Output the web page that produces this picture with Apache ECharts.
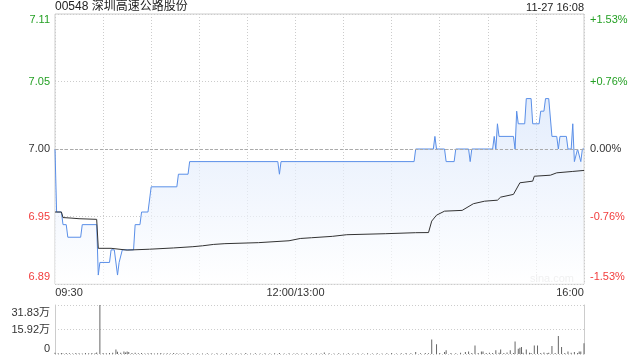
<!DOCTYPE html>
<html>
<head>
<meta charset="utf-8">
<script src="https://cdn.jsdelivr.net/npm/echarts@6/dist/echarts.min.js"></script>
<style>
  html, body { margin: 0; padding: 0; background: #fff; }
  #chart { width: 640px; height: 360px; }
</style>
</head>
<body>
<div id="chart"></div>
<script>
// ---------- data ----------
const titleText = '00548 深圳高速公路股份';
const stampText = '11-27 16:08';
const prevClose = 7.00;

const timeTicks = [0, 150, 330];
const timeLabels = ['09:30', '12:00/13:00', '16:00'];
const priceTickLabels = ['6.89', '6.95', '7.00', '7.05', '7.11'];
const pctTickLabels = ['-1.53%', '-0.76%', '0.00%', '+0.76%', '+1.53%'];
const volTickLabels = ['0', '15.92万', '31.83万'];

const priceMinutes = [0,1,4,5,7,8,16,17,26,27,28,34,35,37,39,40,41,42,49,50,53,54,58,60,76,77,83,84,139,140,141,224,225,236,237,238,243,244,249,250,258,259,260,273,274,275,276,277,286,287,288,289,293,294,297,298,302,303,305,306,308,310,313,314,315,319,320,322,323,324,325,326,327,328,329,330];
const priceValues = [7.00,6.95,6.95,6.94,6.94,6.93,6.93,6.94,6.94,6.90,6.91,6.91,6.92,6.92,6.90,6.91,6.91,6.92,6.92,6.94,6.94,6.95,6.95,6.97,6.97,6.98,6.98,6.99,6.99,6.98,6.99,6.99,7.00,7.00,7.01,7.00,7.00,6.99,6.99,7.00,7.00,6.99,7.00,7.00,7.01,7.00,7.02,7.01,7.01,7.00,7.03,7.02,7.02,7.04,7.04,7.02,7.02,7.03,7.03,7.04,7.04,7.01,7.01,7.00,7.01,7.01,7.00,7.00,7.02,6.99,6.99,7.00,7.00,6.99,7.00,7.00];

const avgMinutes = [0,4,5,10,15,26,27,35,45,59,74,86,92,99,106,127,146,153,160,173,182,206,225,233,235,238,243,254,261,268,276,278,286,290,298,299,309,313,323,330];
const avgValues = [6.950,6.950,6.9456,6.9452,6.9447,6.9442,6.9212,6.9212,6.9198,6.9205,6.9215,6.9225,6.9232,6.9243,6.9249,6.9257,6.9272,6.9290,6.9296,6.9307,6.9320,6.9328,6.9336,6.9337,6.9428,6.9475,6.9507,6.9513,6.9566,6.9586,6.9594,6.9618,6.9640,6.9732,6.9745,6.9784,6.9792,6.9811,6.9822,6.9830];

const volMinutes = [0,2,4,5,7,9,11,13,15,17,19,21,23,25,26,28,30,32,34,36,38,39,41,43,44,45,46,48,50,52,54,56,58,60,62,64,66,68,70,72,74,76,78,80,83,86,89,92,95,98,101,104,107,110,113,116,119,122,125,128,131,134,137,140,143,146,149,151,154,157,160,163,166,168,171,174,177,180,183,186,189,192,195,198,201,204,207,210,213,216,219,222,225,228,231,233,235,238,240,243,244,247,250,253,256,258,260,262,264,266,267,269,271,273,275,277,278,280,282,284,286,287,289,290,291,292,294,296,297,299,301,303,305,307,308,310,312,314,316,318,320,322,324,326,327,328,330];
const volValues = [0.8,0.5,0.6,0.4,0.7,0.5,0.4,0.6,0.5,0.4,0.6,0.5,0.7,0.5,0.9,31.83,0.6,0.5,0.7,0.8,3.0,1.5,0.8,1.7,0.9,1.7,1.3,0.6,0.8,0.5,0.6,0.4,0.5,0.7,0.4,0.5,0.6,0.4,0.5,0.4,0.6,0.5,0.4,0.5,0.6,0.4,0.5,0.4,0.5,0.4,0.5,0.4,0.5,0.4,0.5,0.4,0.6,0.4,0.5,0.4,0.5,0.4,0.5,0.7,0.4,0.5,0.4,0.5,0.4,0.5,0.4,0.5,0.4,0.9,0.5,0.4,0.5,0.4,0.5,0.4,0.5,0.4,0.5,0.4,0.5,0.4,0.5,0.6,0.4,0.5,0.7,0.5,1.3,0.5,0.6,0.5,9.5,6.3,0.6,1.3,2.4,0.7,0.5,0.8,1.3,1.7,0.6,5.6,0.7,1.7,1.7,0.6,0.8,0.6,2.4,0.8,3.0,0.6,0.9,2.4,0.7,8.2,3.4,4.1,4.5,0.8,3.0,0.8,0.6,5.6,5.6,0.7,0.9,0.6,0.8,5.2,0.7,11.7,4.5,0.6,1.7,0.8,1.3,0.6,1.7,1.7,7.0];
const volMax = 31.83;

// ---------- build ----------
const halfRange = 107.1;   // price axis half range in 0.001 units (1.53% of 7.00)
const quarter = 53.55;
const toAxis = p => Math.round((p - prevClose) * 100000) / 100;
const priceData = priceMinutes.map((m, i) => [m, toAxis(priceValues[i])]);
const avgData = avgMinutes.map((m, i) => [m, toAxis(avgValues[i])]);
const volData = volMinutes.map((m, i) => [m, volValues[i]]);

const font = '"Liberation Sans", Arial, "Noto Sans CJK SC", sans-serif';
const GREEN = '#24a024', RED = '#f23c3c', DARK = '#333';
const priceStyleNames = ['rb', 'r', 'k', 'g', 'gt'];
const richPrice = {
  rb: { color: RED, fontSize: 11, fontFamily: font, padding: [0, 0, 14, 0] },
  r:  { color: RED, fontSize: 11, fontFamily: font },
  k:  { color: DARK, fontSize: 11, fontFamily: font },
  g:  { color: GREEN, fontSize: 11, fontFamily: font },
  gt: { color: GREEN, fontSize: 11, fontFamily: font, padding: [12, 0, 0, 0] }
};
const tIdx = v => Math.round(v / quarter) + 2;

const chart = echarts.init(document.getElementById('chart'), null, { renderer: 'canvas' });
chart.setOption({
  animation: false,
  backgroundColor: '#fff',
  textStyle: { fontFamily: font },
  title: [
    { text: titleText, left: 55, top: 1, padding: 0, textStyle: { fontSize: 12, fontWeight: 'normal', color: '#222', fontFamily: font } },
    { text: stampText, right: 56, top: 2, padding: 0, textStyle: { fontSize: 11, fontWeight: 'normal', color: '#222', fontFamily: font } }
  ],
  graphic: [
    { type: 'text', right: 66, top: 273, silent: true, style: { text: 'sina.com', fill: '#d4d4d4', font: '11px ' + font } }
  ],
  grid: [
    { left: 55, right: 56, top: 14, height: 270, show: true, borderColor: '#ccc', borderWidth: 1, backgroundColor: 'transparent' },
    { left: 55, right: 56, top: 305, height: 49 }
  ],
  xAxis: [
    {
      type: 'value', gridIndex: 0, min: 0, max: 330, interval: 30,
      axisLine: { show: false }, axisTick: { show: false },
      splitLine: { show: true, lineStyle: { type: [1, 2], color: '#ccc', width: 1 } },
      axisLabel: {
        show: true, margin: 3, fontSize: 11, color: DARK,
        formatter: v => {
          const i = timeTicks.indexOf(v);
          if (i < 0) return '';
          return '{' + ['l', 'c', 'r'][i] + '|' + timeLabels[i] + '}';
        },
        rich: {
          l: { fontSize: 11, color: DARK, fontFamily: font, padding: [0, 0, 0, 28] },
          c: { fontSize: 11, color: DARK, fontFamily: font },
          r: { fontSize: 11, color: DARK, fontFamily: font, padding: [0, 28, 0, 0] }
        }
      }
    },
    {
      type: 'value', gridIndex: 1, min: 0, max: 330, interval: 30,
      axisLine: { show: false }, axisTick: { show: false }, axisLabel: { show: false }, splitLine: { show: false }
    }
  ],
  yAxis: [
    {
      type: 'value', gridIndex: 0, position: 'left', min: -halfRange, max: halfRange, interval: quarter,
      axisLine: { show: false }, axisTick: { show: false },
      splitLine: { show: true, lineStyle: { type: [1, 2], color: '#ccc', width: 1 } },
      axisLabel: {
        margin: 5, fontSize: 11,
        formatter: v => { const i = tIdx(v); return '{' + priceStyleNames[i] + '|' + priceTickLabels[i] + '}'; },
        rich: richPrice
      }
    },
    {
      type: 'value', gridIndex: 0, position: 'right', min: -halfRange, max: halfRange, interval: quarter,
      axisLine: { show: false }, axisTick: { show: false }, splitLine: { show: false },
      axisLabel: {
        margin: 6, fontSize: 11,
        formatter: v => { const i = tIdx(v); return '{' + priceStyleNames[i] + '|' + pctTickLabels[i] + '}'; },
        rich: richPrice
      }
    },
    {
      type: 'value', gridIndex: 1, position: 'left', min: 0, max: volMax, interval: volMax / 2,
      axisLine: { show: true, lineStyle: { color: '#ccc', width: 1 } }, axisTick: { show: false },
      splitLine: { show: true, lineStyle: { type: [1, 2], color: '#ccc', width: 1 } },
      axisLabel: {
        margin: 5, fontSize: 11,
        formatter: v => {
          const i = Math.round(v / (volMax / 2));
          return '{' + ['vb', 'vm', 'vt'][i] + '|' + volTickLabels[i] + '}';
        },
        rich: {
          vb: { color: DARK, fontSize: 11, fontFamily: font, padding: [0, 0, 11, 0] },
          vm: { color: DARK, fontSize: 11, fontFamily: font },
          vt: { color: DARK, fontSize: 11, fontFamily: font, padding: [15, 0, 0, 0] }
        }
      }
    },
    {
      type: 'value', gridIndex: 1, position: 'right', min: 0, max: volMax, interval: volMax / 2,
      axisLine: { show: true, lineStyle: { color: '#ccc', width: 1 } }, axisTick: { show: false },
      splitLine: { show: false }, axisLabel: { show: false }
    }
  ],
  series: [
    {
      name: 'price', type: 'line', xAxisIndex: 0, yAxisIndex: 0,
      data: priceData, symbol: 'none', showSymbol: false, z: 3,
      lineStyle: { color: '#5a8fe8', width: 1 },
      areaStyle: {
        origin: 'start',
        color: new echarts.graphic.LinearGradient(0, 0, 0, 1, [
          { offset: 0, color: 'rgba(214,228,251,0.95)' },
          { offset: 1, color: 'rgba(255,255,255,0.95)' }
        ])
      },
      markLine: {
        silent: true, symbol: 'none', label: { show: false },
        lineStyle: { type: [3, 2], color: '#aaa', width: 1 },
        data: [{ yAxis: 0 }]
      }
    },
    {
      name: 'avg', type: 'line', xAxisIndex: 0, yAxisIndex: 0,
      data: avgData, symbol: 'none', showSymbol: false, z: 4,
      lineStyle: { color: '#333', width: 1 }
    },
    {
      name: 'vol', type: 'bar', xAxisIndex: 1, yAxisIndex: 2,
      data: volData, barWidth: 1, itemStyle: { color: '#666' }
    }
  ]
});
</script>
</body>
</html>
